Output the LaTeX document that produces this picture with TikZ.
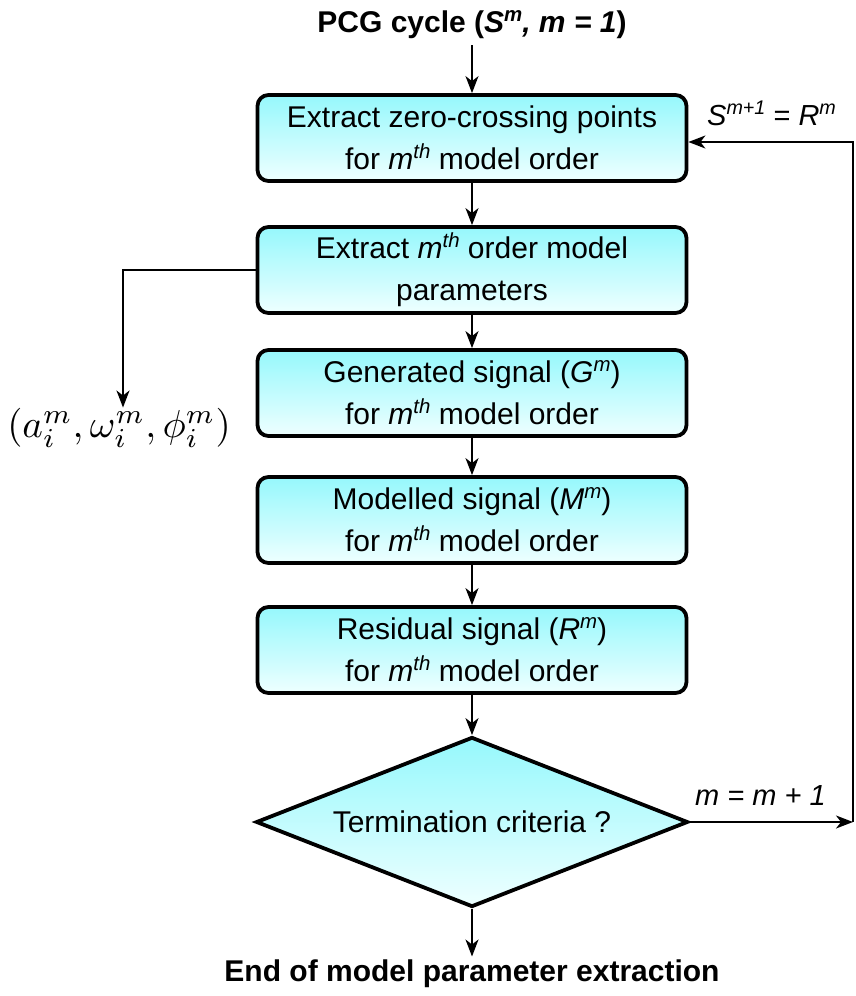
\documentclass[tikz,border=0pt]{standalone}
\usepackage{fontspec}
\setmainfont{Liberation Sans}
\usetikzlibrary{arrows.meta,shapes.geometric}
\definecolor{topcyan}{RGB}{150,248,252}
\definecolor{botcyan}{RGB}{238,255,255}
\tikzset{
  stepbox/.style={draw, line width=3.8pt, rounded corners=11pt,
    top color=topcyan, bottom color=botcyan,
    minimum width=429pt, minimum height=86pt, align=center,
    inner sep=0pt, font=\fontsize{30}{42}\selectfont},
  decision/.style={draw, line width=3.8pt, diamond, aspect=2.54, inner sep=0pt,
    top color=topcyan, bottom color=botcyan,
    minimum width=432pt, minimum height=170pt,
    font=\fontsize{30}{34}\selectfont},
  arr/.style={line width=1.8pt, -{Stealth[length=17pt,width=13pt,inset=5pt]}},
  title/.style={font=\fontsize{30}{34}\selectfont\bfseries},
  lbl/.style={font=\fontsize{29}{34}\selectfont\itshape, inner sep=0pt}
}
% raised, slightly reduced superscript text
\newcommand{\hisup}[1]{\raisebox{0.36em}{\scalebox{0.68}{#1}}}
\newcommand{\mth}{\textit{m\hisup{th}}}
\begin{document}
\begin{tikzpicture}[x=1pt,y=-1pt]
  \useasboundingbox (0,0) rectangle (855,996);

  % start and end labels
  \node[title] (start) at (472,25) {PCG cycle (\textit{S\hisup{m}, m = 1})};
  \node[title] (stop) at (472,974) {End of model parameter extraction};

  % processing steps
  \node[stepbox] (b1) at (472,138) {Extract zero-crossing points\\for \mth{} model order};
  \node[stepbox] (b2) at (472,270) {Extract \mth{} order model\\parameters};
  \node[stepbox] (b3) at (472,393) {Generated signal (\textit{G\hisup{m}})\\for \mth{} model order};
  \node[stepbox] (b4) at (472,520) {Modelled signal (\textit{M\hisup{m}})\\for \mth{} model order};
  \node[stepbox] (b5) at (472,650) {Residual signal (\textit{R\hisup{m}})\\for \mth{} model order};
  \node[decision] (dec) at (472,822) {Termination criteria ?};

  % output parameters
  \node[inner sep=0pt, scale=3.9] (par) at (119,428)
    {$(a_i^m,\omega_i^m,\phi_i^m)$};

  % main flow
  \draw[arr] (start.south |- 0,45) -- (b1.north);
  \draw[arr] (b1) -- (b2);
  \draw[arr] (b2) -- (b3);
  \draw[arr] (b3) -- (b4);
  \draw[arr] (b4) -- (b5);
  \draw[arr] (b5.south) -- (dec.north);
  \draw[arr] (dec.south) -- (stop.north);

  % parameter branch
  \coordinate (bend) at (123,270);
  \draw[arr] (b2.west) -- (bend) -- (bend |- par.north);

  % feedback loop
  \coordinate (cR) at (853,822);
  \coordinate (cT) at (853,142);
  \draw[arr] (dec.east) -- (cR);
  \draw[arr] (cR) -- (cT) -- (b1.east |- cT);
  \node[lbl, anchor=base west] (lup) at (707,125) {S\hisup{m+1} \textup{=} R\hisup{m}};
  \node[lbl, anchor=base west] (ldn) at (695,805) {m = m + 1};
\end{tikzpicture}
\end{document}
